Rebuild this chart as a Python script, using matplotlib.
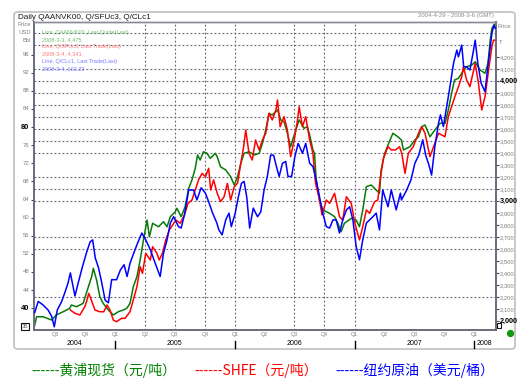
import matplotlib
matplotlib.use('Agg')
import matplotlib.pyplot as plt
import numpy as np
from matplotlib.patches import FancyBboxPatch, Rectangle
from matplotlib.lines import Line2D

plt.rcParams['font.family'] = ['Liberation Sans', 'DejaVu Sans']

# ---------------- data ----------------
blue_dates = ['2004-04-30','2004-05-11','2004-05-26','2004-06-10','2004-06-21','2004-06-29','2004-07-08','2004-07-21',
 '2004-07-31','2004-08-10','2004-08-17','2004-08-31','2004-09-10','2004-09-23','2004-10-05','2004-10-16','2004-10-24',
 '2004-11-01','2004-11-11','2004-11-20','2004-12-01','2004-12-11','2004-12-21','2005-01-05','2005-01-17','2005-01-28',
 '2005-02-06','2005-02-15','2005-02-26','2005-03-08','2005-03-23','2005-04-04','2005-04-18','2005-05-03','2005-05-18',
 '2005-05-28','2005-06-08','2005-06-18','2005-06-28','2005-07-13','2005-07-21','2005-07-31','2005-08-13','2005-08-28',
 '2005-09-07','2005-09-20','2005-10-03','2005-10-13','2005-10-25','2005-11-07','2005-11-13','2005-11-23','2005-12-04',
 '2005-12-14','2005-12-21','2006-01-02','2006-01-11','2006-01-21','2006-01-29','2006-02-06','2006-02-15','2006-02-26',
 '2006-03-11','2006-03-21','2006-03-31','2006-04-10','2006-04-20','2006-04-29','2006-05-09','2006-05-16','2006-05-26',
 '2006-06-05','2006-06-12','2006-06-23','2006-07-03','2006-07-13','2006-07-26','2006-08-05','2006-08-17','2006-08-27',
 '2006-09-06','2006-09-16','2006-09-26','2006-10-07','2006-10-17','2006-10-27','2006-11-06','2006-11-16','2006-11-26',
 '2006-12-07','2006-12-17','2006-12-27','2007-01-06','2007-01-16','2007-01-26','2007-02-06','2007-02-16','2007-02-26',
 '2007-03-08','2007-03-18','2007-03-28','2007-04-13','2007-04-23','2007-05-08','2007-05-21','2007-05-24','2007-06-09',
 '2007-06-22','2007-07-04','2007-07-16','2007-07-28','2007-08-06','2007-08-16','2007-08-24','2007-09-03','2007-09-14',
 '2007-09-20','2007-09-29','2007-10-09','2007-10-19','2007-10-30','2007-11-09','2007-11-14','2007-11-24','2007-11-30',
 '2007-12-09','2007-12-19','2007-12-30','2008-01-04','2008-01-12','2008-01-22','2008-02-03','2008-02-14','2008-02-24',
 '2008-03-01','2008-03-05']
blue_vals = [39.0,41.5,40.7,39.6,38.2,35.9,39.6,41.4,
 43.4,45.6,47.8,42.7,45.6,49.2,52.2,54.6,55.1,
 51.1,48.9,45.9,41.8,41.2,46.3,46.3,48.5,49.6,
 47.0,49.9,52.1,54.0,56.6,55.1,52.9,49.9,47.0,
 52.1,55.1,58.8,60.2,58.0,57.7,60.6,66.1,66.1,
 63.9,66.6,65.4,63.5,61.0,58.8,57.3,56.2,59.5,
 61.0,58.0,61.0,64.4,67.6,68.0,64.6,57.7,62.1,
 60.2,61.3,66.1,69.1,73.8,73.8,70.9,69.1,72.0,
 72.4,69.1,69.1,73.5,76.4,74.2,76.4,72.0,71.3,
 68.3,64.6,61.0,58.0,57.7,59.5,59.5,56.6,59.5,
 61.7,62.4,59.5,53.6,50.7,55.1,58.8,59.5,60.2,
 61.0,57.3,66.1,62.4,66.1,61.7,65.4,63.9,66.1,
 68.3,72.0,73.8,77.2,73.8,71.6,69.4,75.7,80.8,
 82.7,80.1,84.5,88.9,94.1,97.0,95.5,98.1,93.3,
 93.3,92.6,97.0,99.2,94.1,89.7,87.8,94.8,100.7,
 102.5,101.8]

green_dates = ['2004-04-29','2004-05-06','2004-05-26','2004-06-21','2004-07-05','2004-07-26','2004-08-15','2004-08-20',
 '2004-09-05','2004-09-25','2004-10-11','2004-10-21','2004-10-26','2004-11-05','2004-11-15','2004-11-25','2004-12-11',
 '2004-12-26','2005-01-10','2005-01-25','2005-02-05','2005-02-15','2005-02-25','2005-03-08','2005-03-18','2005-03-28',
 '2005-04-08','2005-04-15','2005-04-25','2005-05-13','2005-05-28','2005-06-08','2005-06-18','2005-07-03','2005-07-08',
 '2005-07-21','2005-08-02','2005-08-13','2005-08-23','2005-09-02','2005-09-09','2005-09-17','2005-09-27','2005-10-08',
 '2005-10-18','2005-11-02','2005-11-08','2005-11-18','2005-12-04','2005-12-19','2005-12-30','2006-01-09','2006-01-19',
 '2006-01-29','2006-02-13','2006-03-01','2006-03-16','2006-03-26','2006-04-05','2006-04-15','2006-04-25','2006-05-11',
 '2006-05-21','2006-05-31','2006-06-10','2006-06-20','2006-07-01','2006-07-16','2006-07-31','2006-08-10','2006-08-17',
 '2006-08-27','2006-09-01','2006-09-06','2006-09-16','2006-09-26','2006-10-17','2006-11-01','2006-11-11','2006-11-21',
 '2006-12-01','2006-12-22','2007-01-06','2007-01-16','2007-01-26','2007-02-06','2007-02-21','2007-03-08','2007-03-18',
 '2007-03-23','2007-04-03','2007-04-13','2007-04-28','2007-05-13','2007-05-24','2007-05-30','2007-06-19','2007-07-04',
 '2007-07-15','2007-07-25','2007-08-04','2007-08-19','2007-09-03','2007-09-19','2007-10-04','2007-10-14','2007-10-24',
 '2007-11-02','2007-11-14','2007-11-24','2007-12-09','2007-12-25','2008-01-04','2008-01-19','2008-02-03','2008-02-12',
 '2008-02-19','2008-02-24','2008-03-03']
green_vals = [1955,2038,2038,2011,2053,2080,2108,2136,
 2122,2150,2288,2372,2442,2344,2205,2150,2094,
 2053,2080,2094,2108,2150,2288,2372,2511,2678,
 2844,2705,2817,2788,2830,2788,2872,2913,2942,
 2872,2955,3108,3178,3275,3386,3344,3413,3400,
 3358,3400,3372,3288,3261,3205,3136,3205,3317,
 3400,3413,3386,3400,3483,3594,3733,3719,3761,
 3678,3663,3567,3455,3553,3678,3608,3622,3553,
 3428,3400,3178,3011,2928,2900,2872,2817,2747,
 2817,2858,2844,2788,2928,3122,3136,3094,3067,
 3261,3400,3469,3567,3538,3511,3428,3455,3511,
 3538,3622,3636,3538,3594,3650,3650,3761,3900,
 4011,4025,4067,4122,4136,4163,4094,4067,4150,
 4344,4442,4475]

red_dates = ['2004-08-17','2004-08-31','2004-09-15','2004-09-30','2004-10-07','2004-10-12','2004-10-20','2004-10-31',
 '2004-11-15','2004-11-27','2004-12-07','2004-12-16','2004-12-26','2005-01-05','2005-01-20','2005-01-31','2005-02-15',
 '2005-02-25','2005-03-08','2005-03-18','2005-03-25','2005-04-04','2005-04-18','2005-04-25','2005-05-08','2005-05-15',
 '2005-05-25','2005-06-04','2005-06-15','2005-06-25','2005-07-05','2005-07-18','2005-07-31','2005-08-11','2005-08-23',
 '2005-09-02','2005-09-12','2005-09-23','2005-10-03','2005-10-13','2005-10-19','2005-10-28','2005-11-08','2005-11-18',
 '2005-11-29','2005-12-09','2005-12-19','2005-12-30','2006-01-09','2006-01-19','2006-01-27','2006-02-03','2006-02-13',
 '2006-02-23','2006-03-05','2006-03-16','2006-03-26','2006-04-05','2006-04-15','2006-04-25','2006-05-06','2006-05-11',
 '2006-05-19','2006-05-31','2006-06-10','2006-06-20','2006-07-01','2006-07-11','2006-07-16','2006-07-26','2006-08-05',
 '2006-08-17','2006-08-27','2006-09-04','2006-09-14','2006-09-24','2006-10-07','2006-10-17','2006-11-01','2006-11-16',
 '2006-11-26','2006-12-07','2006-12-22','2007-01-02','2007-01-16','2007-01-26','2007-02-06','2007-02-16','2007-03-03',
 '2007-03-13','2007-03-20','2007-03-30','2007-04-13','2007-04-23','2007-05-06','2007-05-18','2007-05-25','2007-06-04',
 '2007-06-14','2007-06-29','2007-07-15','2007-07-25','2007-08-04','2007-08-19','2007-09-03','2007-09-14','2007-10-04',
 '2007-10-14','2007-10-24','2007-11-03','2007-11-14','2007-11-24','2007-11-29','2007-12-09','2007-12-19','2008-01-04',
 '2008-01-14','2008-01-24','2008-02-03','2008-02-14','2008-02-24','2008-02-29','2008-03-04']
red_vals = [2094,2067,2053,2122,2178,2233,2178,2094,
 2080,2080,2136,2094,2011,1997,2025,2025,2080,
 2178,2288,2455,2400,2567,2511,2622,2567,2511,
 2567,2678,2761,2803,2844,2817,2886,2983,3011,
 3094,3178,3233,3205,3275,3094,3178,3067,2997,
 3038,3150,3011,3122,3150,3317,3442,3594,3400,
 3344,3511,3428,3511,3567,3733,3678,3761,3844,
 3622,3705,3594,3372,3511,3678,3788,3622,3705,
 3511,3400,3150,3038,2886,3011,2983,3067,2872,
 2844,3038,2983,2817,2678,2788,2928,2900,2997,
 3011,3178,3358,3455,3428,3428,3455,3400,3233,
 3400,3455,3567,3622,3567,3372,3483,3567,3538,
 3705,3788,3872,3955,4038,4122,4011,3955,4150,
 3983,3760,3872,4094,4288,4344,4341]

left_ticks = list(range(40, 97, 4))
right_ticks = list(range(2000, 4201, 100))
hgrid_vals = [4400, 4300, 4100, 4000, 3900, 3800, 3700, 3600, 3500, 3400, 3200, 3100, 3000, 2700, 2600, 2200]
vgrid_dates = ['2005-04-01', '2005-07-01', '2005-10-01', '2006-01-01', '2006-07-01', '2006-10-01', '2007-01-01']
quarter_dates = ['2004-07-01','2004-10-01','2005-01-01','2005-04-01','2005-07-01','2005-10-01','2006-01-01','2006-04-01',
 '2006-07-01','2006-10-01','2007-01-01','2007-04-01','2007-07-01','2007-10-01','2008-01-01']
quarter_labels = ['Q3','Q4','Q1','Q2','Q3','Q4','Q1','Q2','Q3','Q4','Q1','Q2','Q3','Q4','Q1']
years = ['2004', '2005', '2006', '2007', '2008']
x_start, x_end = '2004-04-29', '2008-03-06'

legend_lines = ['Line, QAANVK00, Last Quote(Last)', '2008-3-3, 4,475',
                'Line, Q/SFUc3, Last Trade(Last)', '2008-3-4, 4,341',
                'Line, Q/CLc1, Last Trade(Last)', '2008-3-4, 102.22']
bottom_legend = ['------黄浦现货（元/吨）', '------SHFE（元/吨）', '------纽约原油（美元/桶）']

# ---------------- layout ----------------
W, H = 530, 390
fig = plt.figure(figsize=(5.3, 3.9), dpi=100)
fig.patch.set_facecolor('white')
def fx(px): return px / W
def fy(py): return 1 - py / H

L, R, T, B = 34.3, 495.5, 22, 329.5
ax = fig.add_axes([fx(L), fy(B), fx(R) - fx(L), fy(T) - fy(B)])
ax2 = ax.twinx()
ax.set_zorder(ax2.get_zorder() + 1)
ax.patch.set_visible(False)

d = lambda s: np.array(s, dtype='datetime64[D]')
ax.set_xlim(d(x_start), d(x_end))
ax.set_ylim(35.3, 103.2)
ax2.set_ylim(1932, 4494)

gcol = '#5e5e70'
for v in hgrid_vals:
    ax2.axhline(v, color=gcol, lw=0.8, ls=(0, (1.6, 2.0)), zorder=0)
for s in vgrid_dates:
    ax2.axvline(d(s), color=gcol, lw=0.8, ls=(0, (1.6, 2.0)), zorder=0)

ax2.plot(d(green_dates), green_vals, color='#087a08', lw=1.1, zorder=2)
ax2.plot(d(red_dates), red_vals, color='#ff0000', lw=1.1, zorder=3)
ax.plot(d(blue_dates), blue_vals, color='#0000ff', lw=1.1, zorder=4)

for a in (ax, ax2):
    for sp in a.spines.values():
        sp.set_color('#6a6a80')
        sp.set_linewidth(1.2)
    a.spines['top'].set_color('#8a8a98')
    a.spines['top'].set_linewidth(1.0)
    a.tick_params(axis='x', bottom=False, labelbottom=False, top=False)

ax.set_yticks(left_ticks)
ax.tick_params(axis='y', direction='out', length=2.5, width=0.8, color='#444455', labelleft=False)
ax2.set_yticks(right_ticks)
ax2.tick_params(axis='y', direction='out', length=2.5, width=0.8, color='#444455', labelright=False)

ytr = ax.get_yaxis_transform()
for v in left_ticks:
    major = v in (40, 80)
    ax.text(-0.0105, v, str(v), transform=ytr, ha='right', va='center',
            fontsize=5.4 if major else 4.3, color='#000000' if major else '#808080',
            fontweight='bold' if major else 'normal')
ax.text(-0.0125, 36, '36', transform=ytr, ha='right', va='center', fontsize=4.2, color='#555555',
        bbox=dict(boxstyle='square,pad=0.12', fc='white', ec='#111111', lw=0.8))

ytr2 = ax2.get_yaxis_transform()
for v in right_ticks:
    major = v % 1000 == 0
    ax2.text(1.009, v, f'{v:,}', transform=ytr2, ha='left', va='center',
             fontsize=5.2 if major else 4.2, color='#000000' if major else '#808080',
             fontweight='bold' if major else 'normal')
# small empty marker box under the right axis' lowest label
ax2.add_patch(Rectangle((1.003, 1945), 0.009, 45, transform=ytr2, fc='white', ec='#111111',
                        lw=0.8, clip_on=False))

xtr = ax.get_xaxis_transform()
for s, lab in zip(quarter_dates, quarter_labels):
    ax.text(d(s), -0.016, lab, transform=xtr, ha='center', va='center', fontsize=3.8, color='#7a7a7a')
x0, x1 = d(x_start), d(x_end)
for i, y in enumerate(years):
    ys = max(d(y + '-01-01'), x0)
    ye = min(d(y + '-12-31'), x1)
    mid = ys + (ye - ys) / 2
    ax.text(mid, -0.047, y, transform=xtr, ha='center', va='center', fontsize=5.0, color='#000000')
    if i > 0:
        ax.plot([d(y + '-01-01')] * 2, [-0.036, -0.059], transform=xtr, color='black', lw=1.0, clip_on=False)

# ---------------- texts ----------------
fig.text(fx(18), fy(17.5), 'Daily QAANVK00, Q/SFUc3, Q/CLc1', fontsize=5.9, va='center', color='#1a1a1a')
fig.text(fx(494), fy(16), '2004-4-29 - 2008-3-6 (GMT)', fontsize=4.3, ha='right', va='center', color='#8a8a8a')
for txt, py in zip(['Price', 'USD', 'Bbl'], [25, 33, 41]):
    fig.text(fx(31), fy(py), txt, fontsize=4.2, ha='right', va='center', color='#808080')
fig.text(fx(498), fy(27), 'Price', fontsize=4.2, ha='left', va='center', color='#808080')
fig.text(fx(499), fy(43), 'T', fontsize=4.2, ha='left', va='center', color='#808080')

leg_cols = ['#6fbf6f', '#6fbf6f', '#ff7a7a', '#ff7a7a', '#7a7aff', '#7a7aff']
for txt, c, py in zip(legend_lines, leg_cols, [32.7, 39.3, 46.7, 53.3, 61.7, 68.5]):
    fig.text(fx(42), fy(py), txt, fontsize=4.0, ha='left', va='center', color=c)

for txt, c, px in zip(bottom_legend, ['#008000', '#ff0000', '#0000ff'], [31, 194, 335]):
    fig.text(fx(px), fy(370), txt, fontsize=10, ha='left', va='center', color=c,
             family=['Noto Sans CJK SC', 'DejaVu Sans'])

frame = FancyBboxPatch((fx(14), fy(349)), fx(515) - fx(14), fy(12) - fy(349),
                       boxstyle='round,pad=0,rounding_size=0.008', transform=fig.transFigure,
                       fc='none', ec='#c4c4c4', lw=1.3, zorder=-1)
fig.add_artist(frame)
fig.add_artist(Line2D([fx(510)], [fy(333)], marker='o', markersize=4.2, color='#0f9a0f',
                      transform=fig.transFigure))

fig.savefig('out.png', dpi=100)
